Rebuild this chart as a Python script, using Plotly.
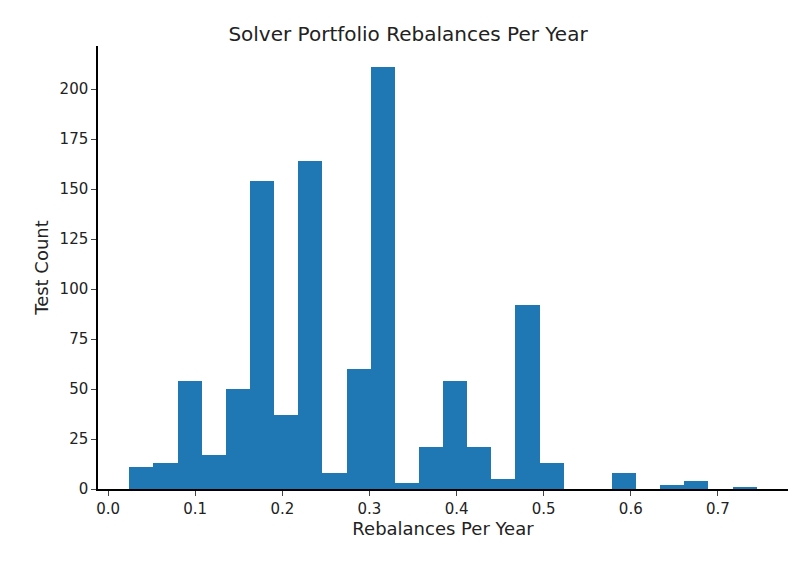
import numpy as np
import plotly.graph_objects as go

# histogram bins
bin_start = 0.0244
bin_end = 0.7445
counts = [11, 13, 54, 17, 50, 154, 37, 164, 8, 60, 211, 3, 21, 54, 21, 5,
          92, 13, 0, 0, 8, 0, 2, 4, 0, 1]
x_ticks = [0.0, 0.1, 0.2, 0.3, 0.4, 0.5, 0.6, 0.7]
y_ticks = [0, 25, 50, 75, 100, 125, 150, 175, 200]

edges = np.linspace(bin_start, bin_end, len(counts) + 1)
centers = (edges[:-1] + edges[1:]) / 2
width = edges[1] - edges[0]

fig = go.Figure(go.Bar(x=centers, y=counts, width=width,
                       marker=dict(color='#1f77b4', line=dict(width=0))))

span = bin_end - bin_start
fig.update_layout(
    width=800, height=567,
    title=dict(text='Solver Portfolio Rebalances Per Year', x=0.5, y=0.955,
               xanchor='center', yanchor='middle', font=dict(size=20, color='#222')),
    font=dict(family='DejaVu Sans', size=15, color='#222'),
    plot_bgcolor='white', paper_bgcolor='white',
    margin=dict(l=90, r=20, t=38, b=86),
    showlegend=False, bargap=0,
    xaxis=dict(title=dict(text='Rebalances Per Year', standoff=6),
               range=[bin_start - 0.05 * span, bin_end + 0.05 * span],
               tickvals=x_ticks, ticktext=[f'{v:.1f}' for v in x_ticks],
               showline=True, linecolor='black', linewidth=1.5,
               ticks='outside', ticklen=5, showgrid=False, zeroline=False),
    yaxis=dict(title=dict(text='Test Count', standoff=6),
               range=[0, max(counts) * 1.05], tickvals=y_ticks,
               showline=True, linecolor='black', linewidth=1.5,
               ticks='outside', ticklen=5, showgrid=False, zeroline=False),
)

fig.write_html("out.html")
